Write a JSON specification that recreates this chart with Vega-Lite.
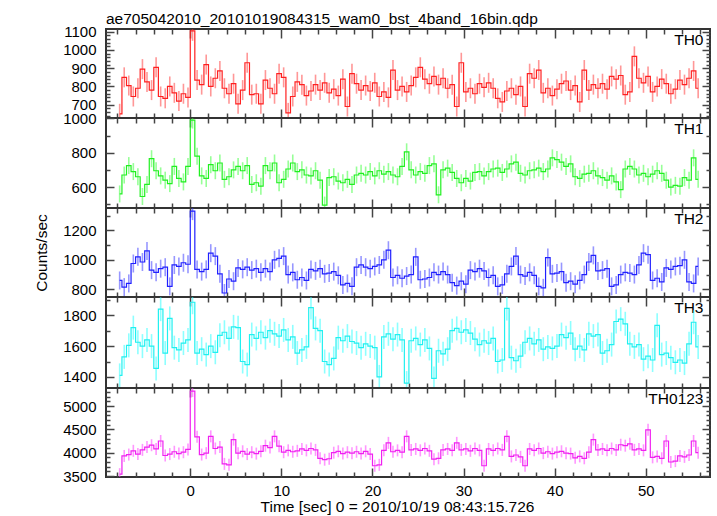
{
"$schema": "https://vega.github.io/schema/vega-lite/v6.json",
"padding": {"left": 33, "top": 12, "right": 5, "bottom": 0},
"background": "white",
"title": {"text": "ae705042010_20101019084315_wam0_bst_4band_16bin.qdp", "anchor": "start", "frame": "group", "fontSize": 15.5, "fontWeight": "normal", "font": "Liberation Sans", "color": "#000", "offset": -4},
"data": {"values": [
{"t":-7.75,"a":650,"b":560,"c":860,"d":1410,"e":3540},
{"t":-7.25,"a":850,"b":670,"c":815,"d":1530,"e":3930},
{"t":-6.75,"a":805,"b":725,"c":840,"d":1605,"e":3960},
{"t":-6.25,"a":745,"b":690,"c":975,"d":1720,"e":4040},
{"t":-5.75,"a":790,"b":660,"c":1020,"d":1625,"e":3970},
{"t":-5.25,"a":895,"b":545,"c":985,"d":1600,"e":4060},
{"t":-4.75,"a":825,"b":615,"c":1060,"d":1640,"e":4120},
{"t":-4.25,"a":780,"b":765,"c":930,"d":1600,"e":4160},
{"t":-3.75,"a":905,"b":695,"c":915,"d":1455,"e":4080},
{"t":-3.25,"a":745,"b":665,"c":940,"d":1840,"e":4250},
{"t":-2.75,"a":735,"b":640,"c":950,"d":1555,"e":3940},
{"t":-2.25,"a":800,"b":620,"c":820,"d":1780,"e":3970},
{"t":-1.75,"a":765,"b":720,"c":965,"d":1590,"e":4020},
{"t":-1.25,"a":720,"b":650,"c":955,"d":1575,"e":3980},
{"t":-0.75,"a":760,"b":630,"c":980,"d":1620,"e":4010},
{"t":-0.25,"a":740,"b":720,"c":970,"d":1640,"e":4070},
{"t":0.25,"a":1105,"b":990,"c":1330,"d":1885,"e":5320},
{"t":0.75,"a":835,"b":780,"c":935,"d":1555,"e":4340},
{"t":1.25,"a":810,"b":665,"c":920,"d":1580,"e":3960},
{"t":1.75,"a":920,"b":650,"c":935,"d":1545,"e":3990},
{"t":2.25,"a":800,"b":730,"c":1045,"d":1600,"e":4350},
{"t":2.75,"a":845,"b":695,"c":1025,"d":1560,"e":4090},
{"t":3.25,"a":885,"b":740,"c":905,"d":1670,"e":4120},
{"t":3.75,"a":790,"b":645,"c":775,"d":1690,"e":3760},
{"t":4.25,"a":760,"b":660,"c":870,"d":1650,"e":3740},
{"t":4.75,"a":815,"b":700,"c":855,"d":1725,"e":4280},
{"t":5.25,"a":705,"b":720,"c":945,"d":1720,"e":3990},
{"t":5.75,"a":780,"b":695,"c":935,"d":1500,"e":4030},
{"t":6.25,"a":930,"b":725,"c":950,"d":1480,"e":3970},
{"t":6.75,"a":755,"b":615,"c":930,"d":1675,"e":4010},
{"t":7.25,"a":760,"b":625,"c":940,"d":1650,"e":3980},
{"t":7.75,"a":705,"b":605,"c":915,"d":1690,"e":4030},
{"t":8.25,"a":835,"b":725,"c":940,"d":1655,"e":4150},
{"t":8.75,"a":790,"b":695,"c":920,"d":1700,"e":4110},
{"t":9.25,"a":760,"b":740,"c":1000,"d":1680,"e":4350},
{"t":9.75,"a":870,"b":625,"c":1010,"d":1665,"e":4140},
{"t":10.25,"a":850,"b":645,"c":1025,"d":1705,"e":4010},
{"t":10.75,"a":655,"b":705,"c":900,"d":1640,"e":4050},
{"t":11.25,"a":745,"b":740,"c":915,"d":1660,"e":4020},
{"t":11.75,"a":825,"b":690,"c":865,"d":1555,"e":4040},
{"t":12.25,"a":810,"b":700,"c":880,"d":1575,"e":4080},
{"t":12.75,"a":750,"b":670,"c":860,"d":1595,"e":4050},
{"t":13.25,"a":775,"b":665,"c":935,"d":1850,"e":4090},
{"t":13.75,"a":810,"b":695,"c":925,"d":1715,"e":4060},
{"t":14.25,"a":780,"b":640,"c":940,"d":1700,"e":3880},
{"t":14.75,"a":820,"b":495,"c":905,"d":1500,"e":3850},
{"t":15.25,"a":765,"b":655,"c":910,"d":1480,"e":3870},
{"t":15.75,"a":785,"b":660,"c":920,"d":1520,"e":4000},
{"t":16.25,"a":750,"b":635,"c":895,"d":1655,"e":4030},
{"t":16.75,"a":840,"b":625,"c":830,"d":1635,"e":3980},
{"t":17.25,"a":690,"b":645,"c":840,"d":1665,"e":4010},
{"t":17.75,"a":870,"b":615,"c":820,"d":1630,"e":3990},
{"t":18.25,"a":815,"b":670,"c":950,"d":1620,"e":4020},
{"t":18.75,"a":780,"b":680,"c":965,"d":1590,"e":3980},
{"t":19.25,"a":805,"b":670,"c":950,"d":1615,"e":4030},
{"t":19.75,"a":775,"b":690,"c":940,"d":1600,"e":3970},
{"t":20.25,"a":820,"b":665,"c":955,"d":1590,"e":3720},
{"t":20.75,"a":745,"b":695,"c":965,"d":1400,"e":3740},
{"t":21.25,"a":770,"b":675,"c":1000,"d":1660,"e":4050},
{"t":21.75,"a":740,"b":690,"c":1065,"d":1680,"e":4210},
{"t":22.25,"a":890,"b":670,"c":880,"d":1645,"e":4020},
{"t":22.75,"a":780,"b":660,"c":895,"d":1675,"e":4050},
{"t":23.25,"a":800,"b":720,"c":875,"d":1640,"e":4010},
{"t":23.75,"a":770,"b":805,"c":890,"d":1360,"e":4350},
{"t":24.25,"a":805,"b":700,"c":900,"d":1635,"e":4060},
{"t":24.75,"a":850,"b":670,"c":1020,"d":1650,"e":4080},
{"t":25.25,"a":905,"b":690,"c":865,"d":1610,"e":4050},
{"t":25.75,"a":840,"b":680,"c":870,"d":1640,"e":4090},
{"t":26.25,"a":815,"b":725,"c":880,"d":1585,"e":4040},
{"t":26.75,"a":855,"b":735,"c":915,"d":1390,"e":3860},
{"t":27.25,"a":810,"b":555,"c":900,"d":1570,"e":3880},
{"t":27.75,"a":845,"b":700,"c":920,"d":1550,"e":4060},
{"t":28.25,"a":790,"b":710,"c":900,"d":1580,"e":4080},
{"t":28.75,"a":810,"b":685,"c":845,"d":1700,"e":4050},
{"t":29.25,"a":690,"b":650,"c":825,"d":1715,"e":4210},
{"t":29.75,"a":930,"b":625,"c":855,"d":1690,"e":4060},
{"t":30.25,"a":770,"b":650,"c":835,"d":1705,"e":4080},
{"t":30.75,"a":790,"b":635,"c":930,"d":1685,"e":4040},
{"t":31.25,"a":760,"b":685,"c":920,"d":1645,"e":4090},
{"t":31.75,"a":815,"b":690,"c":940,"d":1610,"e":4050},
{"t":32.25,"a":795,"b":665,"c":925,"d":1635,"e":3720},
{"t":32.75,"a":820,"b":690,"c":880,"d":1620,"e":4080},
{"t":33.25,"a":790,"b":705,"c":895,"d":1650,"e":4050},
{"t":33.75,"a":735,"b":710,"c":820,"d":1500,"e":4090},
{"t":34.25,"a":715,"b":685,"c":830,"d":1510,"e":4060},
{"t":34.75,"a":775,"b":705,"c":905,"d":1845,"e":4350},
{"t":35.25,"a":790,"b":735,"c":955,"d":1525,"e":3920},
{"t":35.75,"a":755,"b":745,"c":1025,"d":1505,"e":3950},
{"t":36.25,"a":800,"b":680,"c":900,"d":1535,"e":3910},
{"t":36.75,"a":690,"b":670,"c":890,"d":1625,"e":3720},
{"t":37.25,"a":870,"b":695,"c":915,"d":1650,"e":4080},
{"t":37.75,"a":845,"b":700,"c":895,"d":1615,"e":4050},
{"t":38.25,"a":890,"b":710,"c":820,"d":1640,"e":4090},
{"t":38.75,"a":765,"b":690,"c":810,"d":1580,"e":3990},
{"t":39.25,"a":790,"b":705,"c":1015,"d":1595,"e":4020},
{"t":39.75,"a":750,"b":770,"c":905,"d":1585,"e":3980},
{"t":40.25,"a":785,"b":760,"c":910,"d":1600,"e":4010},
{"t":40.75,"a":815,"b":745,"c":920,"d":1675,"e":4030},
{"t":41.25,"a":830,"b":720,"c":845,"d":1655,"e":3990},
{"t":41.75,"a":780,"b":735,"c":855,"d":1685,"e":3980},
{"t":42.25,"a":805,"b":660,"c":835,"d":1580,"e":3890},
{"t":42.75,"a":715,"b":650,"c":860,"d":1600,"e":3920},
{"t":43.25,"a":890,"b":675,"c":900,"d":1575,"e":3880},
{"t":43.75,"a":780,"b":680,"c":985,"d":1680,"e":4010},
{"t":44.25,"a":810,"b":695,"c":1030,"d":1665,"e":4280},
{"t":44.75,"a":790,"b":665,"c":925,"d":1675,"e":4060},
{"t":45.25,"a":815,"b":655,"c":930,"d":1555,"e":4080},
{"t":45.75,"a":785,"b":640,"c":940,"d":1570,"e":4050},
{"t":46.25,"a":855,"b":665,"c":820,"d":1610,"e":4090},
{"t":46.75,"a":840,"b":630,"c":830,"d":1760,"e":4060},
{"t":47.25,"a":860,"b":585,"c":900,"d":1775,"e":4170},
{"t":47.75,"a":755,"b":705,"c":915,"d":1745,"e":4150},
{"t":48.25,"a":770,"b":720,"c":910,"d":1615,"e":4190},
{"t":48.75,"a":965,"b":705,"c":900,"d":1595,"e":4060},
{"t":49.25,"a":845,"b":670,"c":965,"d":1610,"e":4080},
{"t":49.75,"a":820,"b":680,"c":1045,"d":1515,"e":4050},
{"t":50.25,"a":855,"b":660,"c":1035,"d":1535,"e":4490},
{"t":50.75,"a":770,"b":675,"c":860,"d":1510,"e":3900},
{"t":51.25,"a":800,"b":695,"c":875,"d":1735,"e":3920},
{"t":51.75,"a":840,"b":680,"c":850,"d":1545,"e":3880},
{"t":52.25,"a":815,"b":640,"c":945,"d":1555,"e":4250},
{"t":52.75,"a":760,"b":600,"c":935,"d":1525,"e":3800},
{"t":53.25,"a":785,"b":610,"c":955,"d":1495,"e":3820},
{"t":53.75,"a":835,"b":605,"c":960,"d":1510,"e":3930},
{"t":54.25,"a":810,"b":655,"c":1000,"d":1490,"e":3910},
{"t":54.75,"a":845,"b":640,"c":850,"d":1615,"e":3950},
{"t":55.25,"a":885,"b":770,"c":840,"d":1755,"e":4250},
{"t":55.75,"a":790,"b":645,"c":955,"d":1595,"e":4000}
]},
"vconcat": [
{
 "width": 604, "height": 89,
 "layer": [
  {"mark": {"type": "tick", "orient": "vertical", "size": 20, "thickness": 1.6, "color": "#ff3030", "opacity": 0.5, "clip": true},
   "encoding": {
    "x": {"field": "t", "type": "quantitative", "scale": {"domain": [-9.25, 57.05], "nice": false, "zero": false},
      "axis": {"orient": "bottom", "values": [-8,-6,-4,-2,0,2,4,6,8,10,12,14,16,18,20,22,24,26,28,30,32,34,36,38,40,42,44,46,48,50,52,54,56], "labels": false, "title": null, "tickSize": {"condition": {"test": "datum.value % 10 === 0", "value": -9}, "value": -5}}},
    "y": {"field": "a", "type": "quantitative", "scale": {"domain": [627, 1115], "nice": false, "zero": false, "clamp": true},
      "axis": {"orient": "left", "values": [640,660,680,700,720,740,760,780,800,820,840,860,880,900,920,940,960,980,1000,1020,1040,1060,1080,1100], "format": "d", "labelExpr": "datum.value % 100 === 0 ? datum.label : ''", "labelPadding": 18, "title": null, "tickSize": {"condition": {"test": "datum.value % 100 === 0", "value": -8}, "value": -4}}}
   }},
  {"mark": {"type": "line", "interpolate": "step", "color": "#ff2020", "strokeWidth": 1.2, "clip": true},
   "encoding": {
    "x": {"field": "t", "type": "quantitative",
      "axis": {"orient": "top", "values": [-8,-6,-4,-2,0,2,4,6,8,10,12,14,16,18,20,22,24,26,28,30,32,34,36,38,40,42,44,46,48,50,52,54,56], "labels": false, "title": null, "tickSize": {"condition": {"test": "datum.value % 10 === 0", "value": -9}, "value": -5}}},
    "y": {"field": "a", "type": "quantitative",
      "axis": {"orient": "right", "values": [640,660,680,700,720,740,760,780,800,820,840,860,880,900,920,940,960,980,1000,1020,1040,1060,1080,1100], "labels": false, "title": "TH0", "titleAngle": 0, "titleAlign": "right", "titleBaseline": "alphabetic", "titleX": -7, "titleY": 15, "tickSize": {"condition": {"test": "datum.value % 100 === 0", "value": -8}, "value": -4}}}
   }}
 ],
 "resolve": {"axis": {"x": "independent", "y": "independent"}}
},
{
 "width": 604, "height": 90,
 "layer": [
  {"mark": {"type": "tick", "orient": "vertical", "size": 17, "thickness": 1.6, "color": "#30ff30", "opacity": 0.5, "clip": true},
   "encoding": {
    "x": {"field": "t", "type": "quantitative", "scale": {"domain": [-9.25, 57.05], "nice": false, "zero": false},
      "axis": {"orient": "bottom", "values": [-8,-6,-4,-2,0,2,4,6,8,10,12,14,16,18,20,22,24,26,28,30,32,34,36,38,40,42,44,46,48,50,52,54,56], "labels": false, "title": null, "tickSize": {"condition": {"test": "datum.value % 10 === 0", "value": -9}, "value": -5}}},
    "y": {"field": "b", "type": "quantitative", "scale": {"domain": [478, 1002], "nice": false, "zero": false, "clamp": true},
      "axis": {"orient": "left", "values": [500,600,700,800,900,1000], "format": "d", "labelExpr": "datum.value % 200 === 0 ? datum.label : ''", "labelPadding": 18, "title": null, "tickSize": {"condition": {"test": "datum.value % 200 === 0", "value": -8}, "value": -4}}}
   }},
  {"mark": {"type": "line", "interpolate": "step", "color": "#20f020", "strokeWidth": 1.2, "clip": true},
   "encoding": {
    "x": {"field": "t", "type": "quantitative",
      "axis": {"orient": "top", "values": [-8,-6,-4,-2,0,2,4,6,8,10,12,14,16,18,20,22,24,26,28,30,32,34,36,38,40,42,44,46,48,50,52,54,56], "labels": false, "title": null, "tickSize": {"condition": {"test": "datum.value % 10 === 0", "value": -9}, "value": -5}}},
    "y": {"field": "b", "type": "quantitative",
      "axis": {"orient": "right", "values": [500,600,700,800,900,1000], "labels": false, "title": "TH1", "titleAngle": 0, "titleAlign": "right", "titleBaseline": "alphabetic", "titleX": -7, "titleY": 15, "tickSize": {"condition": {"test": "datum.value % 200 === 0", "value": -8}, "value": -4}}}
   }}
 ],
 "resolve": {"axis": {"x": "independent", "y": "independent"}}
},
{
 "width": 604, "height": 89,
 "layer": [
  {"mark": {"type": "tick", "orient": "vertical", "size": 18, "thickness": 1.6, "color": "#3030ff", "opacity": 0.5, "clip": true},
   "encoding": {
    "x": {"field": "t", "type": "quantitative", "scale": {"domain": [-9.25, 57.05], "nice": false, "zero": false},
      "axis": {"orient": "bottom", "values": [-8,-6,-4,-2,0,2,4,6,8,10,12,14,16,18,20,22,24,26,28,30,32,34,36,38,40,42,44,46,48,50,52,54,56], "labels": false, "title": null, "tickSize": {"condition": {"test": "datum.value % 10 === 0", "value": -9}, "value": -5}}},
    "y": {"field": "c", "type": "quantitative", "scale": {"domain": [748, 1351], "nice": false, "zero": false, "clamp": true},
      "axis": {"orient": "left", "values": [800,900,1000,1100,1200,1300], "format": "d", "labelExpr": "datum.value % 200 === 0 ? datum.label : ''", "labelPadding": 18, "title": "Counts/sec", "titleAngle": 270, "titleBaseline": "alphabetic", "titleAlign": "center", "titleX": -60, "titleY": 44.5, "tickSize": {"condition": {"test": "datum.value % 200 === 0", "value": -8}, "value": -4}}}
   }},
  {"mark": {"type": "line", "interpolate": "step", "color": "#2020ff", "strokeWidth": 1.2, "clip": true},
   "encoding": {
    "x": {"field": "t", "type": "quantitative",
      "axis": {"orient": "top", "values": [-8,-6,-4,-2,0,2,4,6,8,10,12,14,16,18,20,22,24,26,28,30,32,34,36,38,40,42,44,46,48,50,52,54,56], "labels": false, "title": null, "tickSize": {"condition": {"test": "datum.value % 10 === 0", "value": -9}, "value": -5}}},
    "y": {"field": "c", "type": "quantitative",
      "axis": {"orient": "right", "values": [800,900,1000,1100,1200,1300], "labels": false, "title": "TH2", "titleAngle": 0, "titleAlign": "right", "titleBaseline": "alphabetic", "titleX": -7, "titleY": 15, "tickSize": {"condition": {"test": "datum.value % 200 === 0", "value": -8}, "value": -4}}}
   }}
 ],
 "resolve": {"axis": {"x": "independent", "y": "independent"}}
},
{
 "width": 604, "height": 91,
 "layer": [
  {"mark": {"type": "tick", "orient": "vertical", "size": 24, "thickness": 1.6, "color": "#30ffff", "opacity": 0.55, "clip": true},
   "encoding": {
    "x": {"field": "t", "type": "quantitative", "scale": {"domain": [-9.25, 57.05], "nice": false, "zero": false},
      "axis": {"orient": "bottom", "values": [-8,-6,-4,-2,0,2,4,6,8,10,12,14,16,18,20,22,24,26,28,30,32,34,36,38,40,42,44,46,48,50,52,54,56], "labels": false, "title": null, "tickSize": {"condition": {"test": "datum.value % 10 === 0", "value": -9}, "value": -5}}},
    "y": {"field": "d", "type": "quantitative", "scale": {"domain": [1328, 1919], "nice": false, "zero": false, "clamp": true},
      "axis": {"orient": "left", "values": [1400,1500,1600,1700,1800,1900], "format": "d", "labelExpr": "datum.value % 200 === 0 ? datum.label : ''", "labelPadding": 18, "title": null, "tickSize": {"condition": {"test": "datum.value % 200 === 0", "value": -8}, "value": -4}}}
   }},
  {"mark": {"type": "line", "interpolate": "step", "color": "#20f0f0", "strokeWidth": 1.2, "clip": true},
   "encoding": {
    "x": {"field": "t", "type": "quantitative",
      "axis": {"orient": "top", "values": [-8,-6,-4,-2,0,2,4,6,8,10,12,14,16,18,20,22,24,26,28,30,32,34,36,38,40,42,44,46,48,50,52,54,56], "labels": false, "title": null, "tickSize": {"condition": {"test": "datum.value % 10 === 0", "value": -9}, "value": -5}}},
    "y": {"field": "d", "type": "quantitative",
      "axis": {"orient": "right", "values": [1400,1500,1600,1700,1800,1900], "labels": false, "title": "TH3", "titleAngle": 0, "titleAlign": "right", "titleBaseline": "alphabetic", "titleX": -7, "titleY": 15, "tickSize": {"condition": {"test": "datum.value % 200 === 0", "value": -8}, "value": -4}}}
   }}
 ],
 "resolve": {"axis": {"x": "independent", "y": "independent"}}
},
{
 "width": 604, "height": 89,
 "layer": [
  {"mark": {"type": "tick", "orient": "vertical", "size": 12, "thickness": 1.6, "color": "#ff30ff", "opacity": 0.5, "clip": true},
   "encoding": {
    "x": {"field": "t", "type": "quantitative", "scale": {"domain": [-9.25, 57.05], "nice": false, "zero": false},
      "axis": {"orient": "bottom", "values": [-8,-6,-4,-2,0,2,4,6,8,10,12,14,16,18,20,22,24,26,28,30,32,34,36,38,40,42,44,46,48,50,52,54,56], "format": "d", "labelExpr": "datum.value % 10 === 0 ? datum.label : ''", "labelPadding": 15, "title": "Time [sec] 0 = 2010/10/19 08:43:15.726", "titleX": 291, "titleY": 34, "titleBaseline": "alphabetic", "titleAlign": "center", "tickSize": {"condition": {"test": "datum.value % 10 === 0", "value": -9}, "value": -5}}},
    "y": {"field": "e", "type": "quantitative", "scale": {"domain": [3479, 5386], "nice": false, "zero": false, "clamp": true},
      "axis": {"orient": "left", "values": [3500,3600,3700,3800,3900,4000,4100,4200,4300,4400,4500,4600,4700,4800,4900,5000,5100,5200,5300], "format": "d", "labelExpr": "datum.value % 500 === 0 ? datum.label : ''", "labelPadding": 18, "title": null, "tickSize": {"condition": {"test": "datum.value % 500 === 0", "value": -8}, "value": -4}}}
   }},
  {"mark": {"type": "line", "interpolate": "step", "color": "#f020f0", "strokeWidth": 1.2, "clip": true},
   "encoding": {
    "x": {"field": "t", "type": "quantitative",
      "axis": {"orient": "top", "values": [-8,-6,-4,-2,0,2,4,6,8,10,12,14,16,18,20,22,24,26,28,30,32,34,36,38,40,42,44,46,48,50,52,54,56], "labels": false, "title": null, "tickSize": {"condition": {"test": "datum.value % 10 === 0", "value": -9}, "value": -5}}},
    "y": {"field": "e", "type": "quantitative",
      "axis": {"orient": "right", "values": [3500,3600,3700,3800,3900,4000,4100,4200,4300,4400,4500,4600,4700,4800,4900,5000,5100,5200,5300], "labels": false, "title": "TH0123", "titleAngle": 0, "titleAlign": "right", "titleBaseline": "alphabetic", "titleX": -7, "titleY": 15, "tickSize": {"condition": {"test": "datum.value % 500 === 0", "value": -8}, "value": -4}}}
   }}
 ],
 "resolve": {"axis": {"x": "independent", "y": "independent"}}
}
],
"spacing": 0,
"bounds": "flush",
"config": {
 "view": {"stroke": "#333", "strokeWidth": 2},
 "font": "Liberation Sans",
 "axis": {"domain": false, "grid": false, "tickColor": "#444", "tickWidth": 1.5, "labelFont": "Liberation Sans", "labelFontSize": 15, "labelColor": "#000", "labelOverlap": false, "labelFlush": false, "labelBound": false, "titleFont": "Liberation Sans", "titleFontSize": 15.5, "titleFontWeight": "normal", "titleColor": "#000"}
}
}
